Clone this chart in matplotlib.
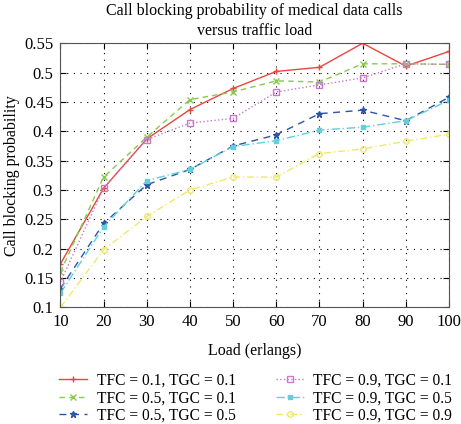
import numpy as np
import matplotlib
matplotlib.use('Agg')
import matplotlib.pyplot as plt
from matplotlib.ticker import FixedLocator, FuncFormatter

plt.rcParams['font.family'] = ['Liberation Serif', 'DejaVu Serif']

load = [10, 20, 30, 40, 50, 60, 70, 80, 90, 100]
labels = ['TFC = 0.1, TGC = 0.1', 'TFC = 0.5, TGC = 0.1', 'TFC = 0.5, TGC = 0.5',
          'TFC = 0.9, TGC = 0.1', 'TFC = 0.9, TGC = 0.5', 'TFC = 0.9, TGC = 0.9']
tfc01_tgc01 = [0.174, 0.303, 0.387, 0.437, 0.473, 0.502, 0.509, 0.550, 0.511, 0.536]
tfc05_tgc01 = [0.160, 0.322, 0.390, 0.454, 0.467, 0.486, 0.484, 0.515, 0.515, 0.514]
tfc05_tgc05 = [0.132, 0.243, 0.309, 0.335, 0.375, 0.394, 0.430, 0.436, 0.418, 0.458]
tfc09_tgc01 = [0.143, 0.303, 0.386, 0.414, 0.422, 0.467, 0.479, 0.491, 0.515, 0.514]
tfc09_tgc05 = [0.124, 0.237, 0.316, 0.335, 0.374, 0.384, 0.402, 0.407, 0.418, 0.453]
tfc09_tgc09 = [0.100, 0.198, 0.255, 0.300, 0.322, 0.322, 0.362, 0.370, 0.383, 0.395]

series = [tfc01_tgc01, tfc05_tgc01, tfc05_tgc05, tfc09_tgc01, tfc09_tgc05, tfc09_tgc09]
styles = [
    dict(color='#e8473e', ls='-', marker='+', ms=4, mfc='none'),
    dict(color='#86cc4a', ls=(0, (4, 3)), marker='x', ms=4, mfc='none'),
    dict(color='#2b54a8', ls=(0, (5, 4)), marker='*', ms=5),
    dict(color='#c77ac8', ls=':', marker='s', ms=4, mfc='none'),
    dict(color='#62d0da', ls=(0, (6, 2, 1, 2)), marker='s', ms=3.5),
    dict(color='#f0e86a', ls=(0, (5, 2, 1, 2)), marker='o', ms=4, mfc='none'),
]

fig = plt.figure(figsize=(4.61, 4.24), dpi=100)
ax = fig.add_axes([0.131, 0.275, 0.843, 0.623])

for vals, lab, st in zip(series, labels, styles):
    ax.plot(load, vals, label=lab, lw=1.0, mew=1.0, **st)

ax.set_xlim(10, 100)
ax.set_ylim(0.1, 0.55)
ax.xaxis.set_major_locator(FixedLocator(load))
ax.yaxis.set_major_locator(FixedLocator(np.arange(0.1, 0.551, 0.05)))
ax.yaxis.set_major_formatter(FuncFormatter(lambda v, p: ('%.2f' % v).rstrip('0')))
ax.tick_params(direction='in', top=True, right=True, labelsize=12, length=4, pad=5)
ax.grid(True, color='black', ls=(0, (1, 5)), lw=0.8)
for s in ax.spines.values():
    s.set_color('#555555')

ax.set_title('Call blocking probability of medical data calls\nversus traffic load',
             fontsize=11.5, linespacing=1.3, pad=6)
ax.set_xlabel('Load (erlangs)', fontsize=11.5, labelpad=9)
ax.set_ylabel('Call blocking probability', fontsize=11.5, labelpad=3)

h, l = ax.get_legend_handles_labels()
fig.legend(h, l, loc='upper center', bbox_to_anchor=(0.555, 0.121), ncol=2,
           frameon=False, fontsize=11.2, handlelength=1.8, columnspacing=2.6,
           labelspacing=0.1, handletextpad=0.6, borderaxespad=0.0, borderpad=0.0)

fig.savefig('out.png', dpi=100)
